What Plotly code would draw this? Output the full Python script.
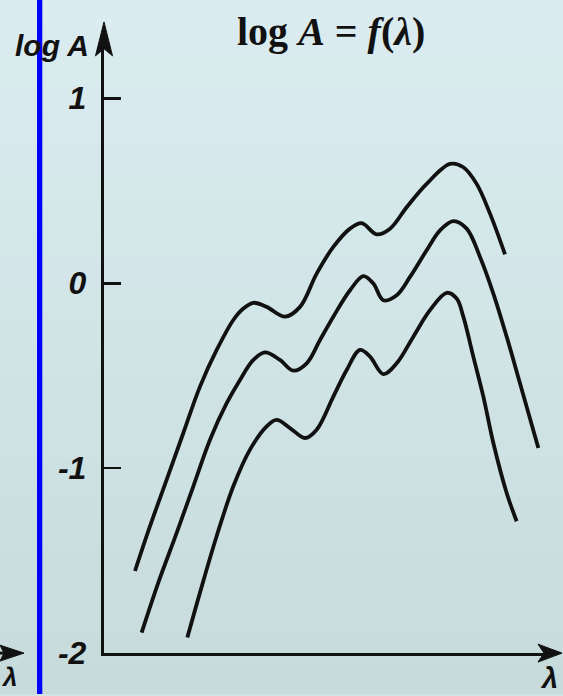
import plotly.graph_objects as go

# ---- data (lambda in arbitrary units 0..100) ----
lam_top = [6.89, 10.22, 13.93, 17.63, 21.33, 25.04, 28.74, 30.96, 33.19, 36.15, 40.22, 43.56,
           47.26, 50.96, 54.67, 57.26, 60.59, 63.56, 67.26, 71.70, 76.89, 79.85, 82.81, 85.78, 89.11]
logA_top = [-1.556, -1.314, -1.062, -0.810, -0.559, -0.361, -0.199, -0.137, -0.106, -0.128, -0.181, -0.128,
            0.052, 0.196, 0.295, 0.325, 0.264, 0.295, 0.411, 0.537, 0.645, 0.627, 0.537, 0.376, 0.156]

lam_mid = [8.37, 12.07, 16.15, 19.85, 23.56, 27.26, 30.22, 33.19, 35.78, 39.11, 42.07, 45.04, 48.0,
           50.96, 54.67, 57.63, 59.85, 62.07, 65.04, 68.0, 71.70, 74.67, 77.63, 80.59, 83.56, 86.52,
           89.48, 92.44, 96.52]
logA_mid = [-1.889, -1.619, -1.350, -1.098, -0.846, -0.649, -0.523, -0.415, -0.374, -0.415, -0.473, -0.433,
            -0.307, -0.181, -0.038, 0.038, -0.002, -0.092, -0.065, 0.034, 0.178, 0.286, 0.336, 0.295,
            0.142, -0.056, -0.289, -0.541, -0.891]

lam_bot = [18.52, 21.33, 25.04, 28.74, 32.44, 36.15, 38.37, 41.33, 44.67, 47.26, 50.96, 53.93, 56.89,
           59.11, 62.07, 65.04, 68.74, 72.44, 76.15, 78.37, 79.85, 82.07, 84.30, 86.52, 89.48, 91.70]
logA_bot = [-1.916, -1.673, -1.367, -1.098, -0.900, -0.774, -0.739, -0.783, -0.837, -0.792, -0.613, -0.469,
            -0.361, -0.397, -0.491, -0.433, -0.289, -0.146, -0.052, -0.083, -0.181, -0.397, -0.613,
            -0.864, -1.134, -1.287]

y_tickvals = [-2, -1, 0, 1]
y_ticktext = ["-2", "-1", "0", "1"]

# reference layout grid (pixels of the target picture)
RW, RH = 563, 696
# figure size: the page area that gets photographed is slightly taller than the window
W, H = 563, 712


def px(x):
    return x / RW


def py(y):
    return 1 - y / RH


fig = go.Figure()
for xs, ys in [(lam_top, logA_top), (lam_mid, logA_mid), (lam_bot, logA_bot)]:
    fig.add_trace(go.Scatter(x=xs, y=ys, mode="lines",
                             line=dict(color="#111111", width=3.8, shape="spline", smoothing=1.0),
                             hoverinfo="skip", showlegend=False))

shapes = []
# background gradient bands
top_c = (218, 236, 239)
bot_c = (199, 219, 220)
n = 24
for i in range(n):
    t = i / (n - 1)
    c = tuple(round(top_c[k] + (bot_c[k] - top_c[k]) * t) for k in range(3))
    shapes.append(dict(type="rect", xref="paper", yref="paper", x0=0, x1=1,
                       y0=1 - (i + 1) / n, y1=1 - i / n + 0.001,
                       fillcolor="rgb(%d,%d,%d)" % c, line=dict(width=0), layer="below"))

# y-axis arrowhead
shapes.append(dict(type="path", xref="paper", yref="paper",
                   path="M %f %f L %f %f L %f %f L %f %f Z" % (
                       px(104), py(22), px(95.5), py(56), px(104), py(49), px(112.5), py(56)),
                   fillcolor="#111111", line=dict(color="#111111", width=1), layer="above"))
# x-axis arrowhead
shapes.append(dict(type="path", xref="paper", yref="paper",
                   path="M %f %f L %f %f L %f %f L %f %f Z" % (
                       px(562), py(655), px(538), py(646), px(544), py(655), px(538), py(664)),
                   fillcolor="#111111", line=dict(color="#111111", width=1), layer="above"))
# fragment of neighbouring figure: arrowhead at left edge
shapes.append(dict(type="path", xref="paper", yref="paper",
                   path="M %f %f L %f %f L %f %f L %f %f Z" % (
                       px(24), py(655), px(0), py(647), px(4), py(655), px(0), py(663)),
                   fillcolor="#111111", line=dict(color="#111111", width=1), layer="above"))
shapes.append(dict(type="line", xref="paper", yref="paper", x0=0, x1=px(10), y0=py(655), y1=py(655),
                   line=dict(color="#111111", width=3), layer="above"))
# blue vertical line
shapes.append(dict(type="rect", xref="paper", yref="paper", x0=px(37), x1=px(42.3), y0=0, y1=1,
                   fillcolor="#0000ff", line=dict(width=0), layer="above"))

hand = dict(family="Liberation Sans", color="#111111", style="italic", weight="bold")

annotations = [
    dict(text="<b>log <i>A</i> = <i>f</i>(<i>λ</i>)</b>", x=px(331), y=py(32), xref="paper", yref="paper",
         showarrow=False, xanchor="center", yanchor="middle",
         font=dict(family="Liberation Serif", size=40, color="#111111")),
    dict(text="log A", x=px(52), y=py(46), xref="paper", yref="paper", showarrow=False,
         xanchor="center", yanchor="middle", font=dict(size=30, **hand)),
    dict(text="λ", x=px(549), y=py(680), xref="paper", yref="paper", showarrow=False,
         xanchor="center", yanchor="middle", font=dict(size=29, **hand)),
    dict(text="λ", x=px(9), y=py(679), xref="paper", yref="paper", showarrow=False,
         xanchor="center", yanchor="middle", font=dict(size=26, **hand)),
]

fig.update_layout(
    width=W, height=H,
    margin=dict(l=0, r=0, t=0, b=0),
    paper_bgcolor="rgb(208,228,230)",
    plot_bgcolor="rgba(0,0,0,0)",
    shapes=shapes,
    annotations=annotations,
    xaxis=dict(domain=[px(104), px(545)], range=[0, 100 * (545 - 104) / 450],
               showline=True, linecolor="#111111", linewidth=3.2,
               showgrid=False, zeroline=False, showticklabels=False, ticks=""),
    yaxis=dict(domain=[py(655), py(33.6)], range=[-2, 1.35],
               showline=True, linecolor="#111111", linewidth=3.2,
               showgrid=False, zeroline=False,
               tickmode="array", tickvals=y_tickvals, ticktext=y_ticktext,
               ticks="inside", ticklen=17, tickwidth=2.6, tickcolor="#111111",
               ticklabelstandoff=8,
               tickfont=dict(size=32, **hand)),
)

post = (
    "document.documentElement.style.margin='0';"
    "document.documentElement.style.padding='0';"
    "document.body.style.margin='0';"
    "document.body.style.padding='0';"
    "var d=document.getElementById('{plot_id}');"
    "d.style.position='absolute';d.style.left='0px';d.style.top='0px';"
)

fig.write_html("out.html", config={"displayModeBar": False, "staticPlot": True}, post_script=post)
